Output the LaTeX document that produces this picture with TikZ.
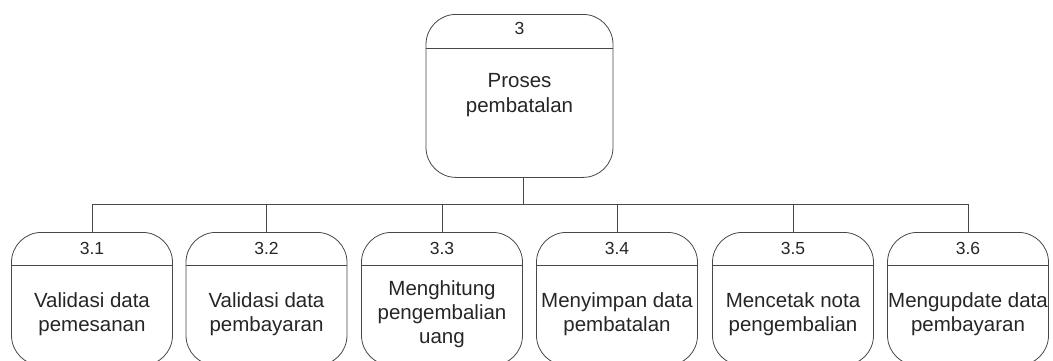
\documentclass[tikz,border=0pt]{standalone}
\usepackage{fontspec}
\setmainfont{Liberation Sans}
\begin{document}
\begin{tikzpicture}[x=1pt,y=-1pt,
  line/.style={draw=black!72,line width=0.8pt},
  procbox/.style={line,rectangle,rounded corners=30pt,inner sep=0pt},
  numtxt/.style={anchor=base,inner sep=0pt,text=black!85,font=\fontsize{17.5}{20}\selectfont},
  bodytxt/.style={align=center,inner sep=0pt,text=black!85,font=\fontsize{20.5}{24.2}\selectfont}]
\useasboundingbox (0,0) rectangle (1053,360);
% top process
\node[procbox,minimum width=187pt,minimum height=163pt,anchor=north] (p) at (519.5,14) {};
\draw[line] ([yshift=-34pt]p.north west) -- ([yshift=-34pt]p.north east);
\node[numtxt] (pn) at (519.5,34) {3};
\node[bodytxt] (pt) at (519.5,95) {Proses\\pembatalan};
% children
\foreach \i/\x/\n/\t in {1/92/3.1/{Validasi data\\pemesanan},
                         2/266.5/3.2/{Validasi data\\pembayaran},
                         3/442/3.3/{Menghitung\\pengembalian\\uang},
                         4/617/3.4/{Menyimpan data\\pembatalan},
                         5/793/3.5/{Mencetak nota\\pengembalian},
                         6/968/3.6/{Mengupdate data\\pembayaran}}{
  \node[procbox,minimum width=161pt,minimum height=133pt,anchor=north] (b\i) at (\x,232) {};
  \draw[line] ([yshift=-33pt]b\i.north west) -- ([yshift=-33pt]b\i.north east);
  \node[numtxt] (bn\i) at (\x,254) {\n};
  \node[bodytxt] (bt\i) at (\x,314) {\t};
}
% connectors
\coordinate (j) at (523,204);
\draw[line] (p.south -| j) -- (j);
\draw[line] (b1.north) -- (b1.north |- j) -- (b6.north |- j) -- (b6.north);
\foreach \i in {2,3,4,5}{\draw[line] (b\i.north) -- (b\i.north |- j);}
\end{tikzpicture}
\end{document}
